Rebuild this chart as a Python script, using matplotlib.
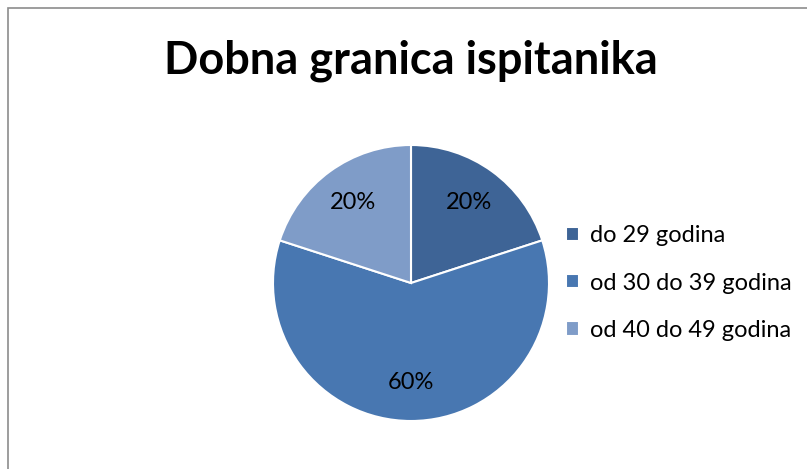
import matplotlib.pyplot as plt
from matplotlib.patches import Rectangle

# data
labels = ["do 29 godina", "od 30 do 39 godina", "od 40 do 49 godina"]
shares = [20, 60, 20]
colors = ["#3E6496", "#4877B1", "#7F9CC8"]
title = "Dobna granica ispitanika"

plt.rcParams['font.family'] = ['Lato', 'DejaVu Sans']

W, H = 807, 469
fig = plt.figure(figsize=(W / 100, H / 100), dpi=100)

# chart border (right and bottom edges run off the image)
fig.patches.append(Rectangle((8 / W, -0.1), 1.2, (H - 8) / H + 0.1,
                             transform=fig.transFigure, fill=False,
                             edgecolor="#8c8c8c", linewidth=1.2))

fig.text(411 / W, 1 - 61 / H, title, ha="center", va="center",
         fontsize=32.5, fontweight="bold", color="black")

cx, cy, r = 411, 283, 138
ax = fig.add_axes([(cx - r) / W, (H - cy - r) / H, 2 * r / W, 2 * r / H])
wedges, texts, autotexts = ax.pie(
    shares, colors=colors, startangle=90, counterclock=False,
    autopct="%d%%", pctdistance=0.72, radius=1,
    wedgeprops=dict(edgecolor="white", linewidth=1.5),
    textprops=dict(fontsize=17, color="black"))
ax.set_xlim(-1, 1)
ax.set_ylim(-1, 1)
ax.set_aspect("equal")
ax.axis("off")

fig.legend(wedges, labels, loc="center left",
           bbox_to_anchor=(566 / W, 1 - 283 / H), frameon=False,
           borderpad=0, borderaxespad=0,
           fontsize=17, handlelength=0.55, handleheight=0.55,
           handletextpad=0.45, labelspacing=1.12)

fig.savefig("out.png", dpi=100)
